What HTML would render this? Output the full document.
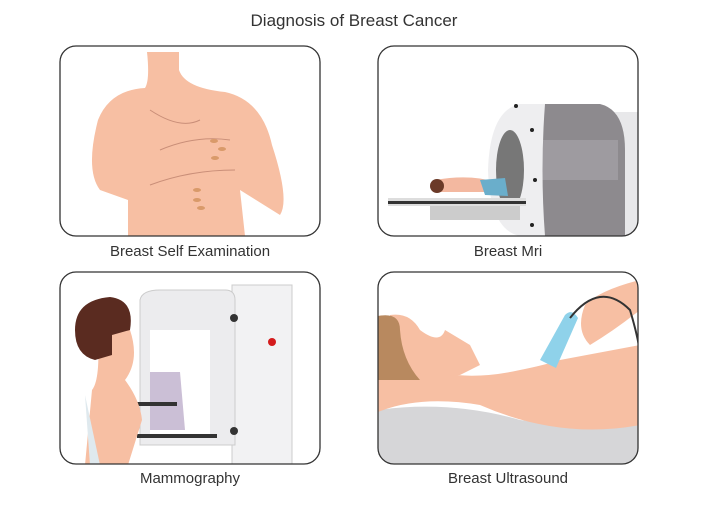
<!DOCTYPE html>
<html><head><style>
body{margin:0;background:#fff;width:708px;height:500px;overflow:hidden;font-family:"Liberation Sans",sans-serif}
</style></head><body>
<svg width="708" height="500" viewBox="0 0 708 500" xmlns="http://www.w3.org/2000/svg" font-family="Liberation Sans, sans-serif">
<rect width="708" height="500" fill="#fff"/>
<text x="354" y="26" text-anchor="middle" font-size="17" fill="#333">Diagnosis of Breast Cancer</text>

<!-- Panel 1 -->
<defs>
<clipPath id="c1"><rect x="60" y="46" width="260" height="190" rx="16"/></clipPath>
<clipPath id="c2"><rect x="378" y="46" width="260" height="190" rx="16"/></clipPath>
<clipPath id="c3"><rect x="60" y="272" width="260" height="192" rx="16"/></clipPath>
<clipPath id="c4"><rect x="378" y="272" width="260" height="192" rx="16"/></clipPath>
</defs>
<g clip-path="url(#c1)">
<path d="M147 52 L179 52 L179 70 Q185 88 225 92 Q262 100 272 145 Q290 200 280 215 L240 190 L245 236 L128 236 L128 200 L100 190 Q85 170 98 120 Q110 90 145 88 Q150 80 147 52Z" fill="#f7bfa3"/>
<path d="M150 110 Q180 130 200 120 M160 150 Q195 135 230 140 M150 185 Q190 170 235 170" stroke="#c98e78" stroke-width="1" fill="none"/>
<g fill="#d99a6a"><ellipse cx="214" cy="141" rx="4" ry="2"/><ellipse cx="222" cy="149" rx="4" ry="2"/><ellipse cx="215" cy="158" rx="4" ry="2"/><ellipse cx="197" cy="190" rx="4" ry="2"/><ellipse cx="197" cy="200" rx="4" ry="2"/><ellipse cx="201" cy="208" rx="4" ry="2"/></g>
</g>
<rect x="60" y="46" width="260" height="190" rx="16" fill="none" stroke="#333" stroke-width="1.3"/>
<text x="190" y="256" text-anchor="middle" font-size="15" fill="#333">Breast Self Examination</text>

<!-- Panel 2 -->
<g clip-path="url(#c2)">
<rect x="560" y="112" width="80" height="124" fill="#e8e8ea"/>
<path d="M520 104 L600 104 Q625 110 625 150 L625 236 L520 236Z" fill="#8d8a8e"/>
<rect x="540" y="140" width="78" height="40" fill="#9e9ba0"/>
<path d="M520 104 Q490 110 488 170 Q490 230 520 236 L545 236 Q540 170 545 104Z" fill="#eeeef0"/>
<ellipse cx="510" cy="170" rx="14" ry="40" fill="#777"/>
<rect x="388" y="198" width="138" height="8" fill="#ddd"/>
<rect x="388" y="201" width="138" height="3" fill="#333"/>
<rect x="430" y="206" width="90" height="14" fill="#ccc"/>
<path d="M435 180 Q470 174 495 182 L500 192 L440 192Z" fill="#f3b8a0"/>
<path d="M480 180 L505 178 L508 196 L485 195Z" fill="#6aaecb"/>
<circle cx="437" cy="186" r="7" fill="#6b3a28"/>
<g fill="#222"><circle cx="516" cy="106" r="2"/><circle cx="532" cy="130" r="2"/><circle cx="535" cy="180" r="2"/><circle cx="532" cy="225" r="2"/></g>
</g>
<rect x="378" y="46" width="260" height="190" rx="16" fill="none" stroke="#333" stroke-width="1.3"/>
<text x="508" y="256" text-anchor="middle" font-size="15" fill="#333">Breast Mri</text>

<!-- Panel 3 -->
<g clip-path="url(#c3)">
<rect x="232" y="285" width="60" height="180" fill="#f2f2f3" stroke="#ccc"/>
<path d="M140 300 Q142 290 160 290 L225 290 Q235 290 235 300 L235 445 L140 445Z" fill="#ececee" stroke="#ccc"/>
<rect x="150" y="330" width="60" height="105" fill="#fff"/>
<path d="M150 372 L180 372 L185 430 L150 430Z" fill="#cbbfd6"/>
<rect x="137" y="402" width="40" height="4" fill="#333"/>
<rect x="137" y="434" width="80" height="4" fill="#333"/>
<circle cx="234" cy="318" r="4" fill="#333"/><circle cx="234" cy="431" r="4" fill="#333"/>
<circle cx="272" cy="342" r="4" fill="#d41c1c"/>
<path d="M100 310 Q125 300 130 330 Q140 360 125 380 Q140 400 142 420 L128 465 L85 465 L92 390 Q100 380 98 340Z" fill="#f7bfa3"/>
<path d="M75 330 Q75 300 110 297 Q135 300 130 330 L112 335 L112 355 L95 360 Q75 355 75 330Z" fill="#5a2b20"/>
<path d="M85 395 L90 465 L100 465 Z" fill="#dfe9ee"/>
</g>
<rect x="60" y="272" width="260" height="192" rx="16" fill="none" stroke="#333" stroke-width="1.3"/>
<text x="190" y="483" text-anchor="middle" font-size="15" fill="#333">Mammography</text>

<!-- Panel 4 -->
<g clip-path="url(#c4)">
<path d="M378 410 Q450 400 520 420 Q600 430 640 420 L640 465 L378 465Z" fill="#d6d6d8"/>
<path d="M378 340 Q430 390 520 370 Q545 365 560 360 L640 345 L640 425 Q560 440 480 405 Q420 395 378 412Z" fill="#f7bfa3"/>
<path d="M390 315 Q410 312 420 330 Q440 345 445 330 L470 345 L480 365 L460 375 Q420 380 395 362Z" fill="#f7bfa3"/>
<path d="M378 316 Q400 312 400 330 Q402 360 420 380 L378 380Z" fill="#b8895f"/>
<path d="M585 305 Q600 290 640 280 L640 310 Q615 330 590 345 Q575 330 585 305Z" fill="#f7bfa3"/>
<path d="M540 360 L565 315 Q572 308 578 318 L556 368Z" fill="#8fd2ea"/>
<path d="M570 318 Q600 280 630 310 Q645 360 640 380" stroke="#333" stroke-width="2" fill="none"/>
</g>
<rect x="378" y="272" width="260" height="192" rx="16" fill="none" stroke="#333" stroke-width="1.3"/>
<text x="508" y="483" text-anchor="middle" font-size="15" fill="#333">Breast Ultrasound</text>
</svg>
</body></html>
